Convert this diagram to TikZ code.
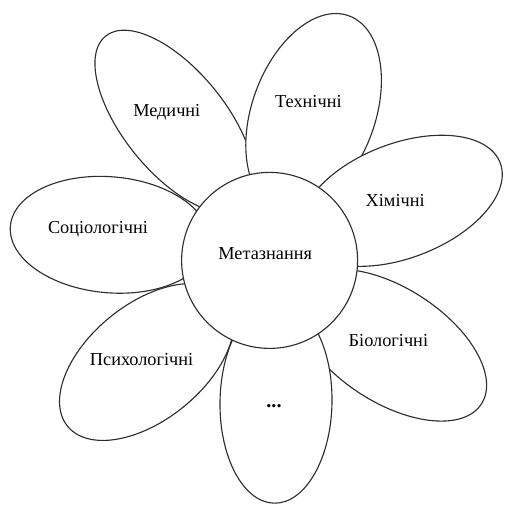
\documentclass[tikz,border=0pt]{standalone}
\usepackage{fontspec}
\setmainfont{Liberation Serif}
\definecolor{petalLine}{HTML}{2E2E2E}

\begin{document}
\begin{tikzpicture}[
  x=1cm, y=1cm,
  font=\fontsize{13}{15}\selectfont,
  line cap=round, line join=round,
  petal/.style={draw=petalLine, fill=white, line width=.8pt},
  core/.style={draw=petalLine, fill=white, line width=.8pt,
    circle, minimum size=4.4cm, inner sep=0pt},
  petal text/.style={text=black, inner sep=1pt}
]
\useasboundingbox (0,0) rectangle (12.6,12.65);

% Petals, back to front: the lower one (...) covers its two neighbours.
\draw[petal, shift={(2.75,6.78)}, rotate=175]
  (0,0) ellipse[x radius=2.50, y radius=1.45];
\draw[petal, shift={(4.37,9.61)}, rotate=129]
  (0,0) ellipse[x radius=2.75, y radius=1.28];
\draw[petal, shift={(7.84,9.83)}, rotate=70]
  (0,0) ellipse[x radius=2.58, y radius=1.54];
\draw[petal, shift={(10.03,7.63)}, rotate=21]
  (0,0) ellipse[x radius=2.65, y radius=1.43];
\draw[petal, shift={(9.77,4.02)}, rotate=-33]
  (0,0) ellipse[x radius=2.70, y radius=1.43];
\draw[petal, shift={(3.67,3.60)}, rotate=219]
  (0,0) ellipse[x radius=2.55, y radius=1.45];
\draw[petal, shift={(6.90,2.60)}, rotate=-91]
  (0,0) ellipse[x radius=2.53, y radius=1.40];

% Centre of the flower
\node[core] (meta) at (6.74,6.14) {};
\node[petal text] (metaText) at (6.63,6.30) {Метазнання};

% Petal labels
\node[petal text] (soc) at (2.45,6.91) {Соціологічні};
\node[petal text] (med) at (4.17,9.85) {Медичні};
\node[petal text] (tech) at (7.71,10.12) {Технічні};
\node[petal text] (chem) at (9.88,7.63) {Хімічні};
\node[petal text] (bio) at (9.71,4.13) {Біологічні};
\node[petal text] (dots) at (6.85,2.50) {\textbf{\Large...}};
\node[petal text] (psy) at (3.54,3.66) {Психологічні};
\end{tikzpicture}
\end{document}
